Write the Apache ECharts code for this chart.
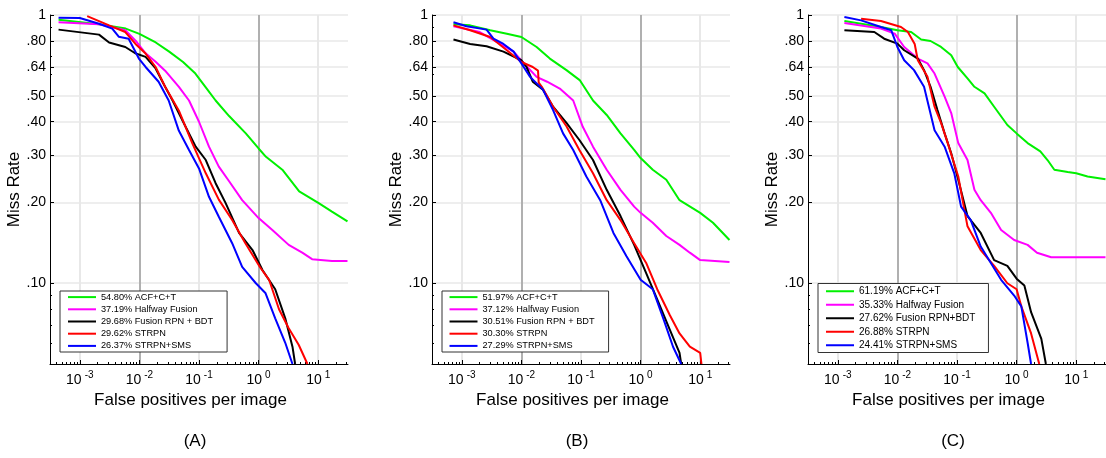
<!DOCTYPE html>
<html>
<head>
<meta charset="utf-8">
<style>
html, body { margin: 0; padding: 0; background: #fff; }
#chart { width: 1106px; height: 458px; }
</style>
</head>
<body>
<div id="chart"></div>
<script src="https://cdn.jsdelivr.net/npm/echarts@6/dist/echarts.min.js"></script>
<script>
// tick labels
var xTicks = [1e-3, 1e-2, 1e-1, 1, 10];
var yTicks = [0.1, 0.2, 0.3, 0.4, 0.5, 0.64, 0.8, 1];
var yMinorTicks = [0.06, 0.07, 0.08, 0.09, 0.6, 0.7, 0.9];

var colors = ['#00f000', '#ff00ff', '#000000', '#ff0000', '#0000ff'];

// legend labels
var namesA = ['54.80% ACF+C+T', '37.19% Halfway Fusion', '29.68% Fusion RPN + BDT', '29.62% STRPN', '26.37% STRPN+SMS'];
var namesB = ['51.97% ACF+C+T', '37.12% Halfway Fusion', '30.51% Fusion RPN + BDT', '30.30% STRPN', '27.29% STRPN+SMS'];
var namesC = ['61.19% ACF+C+T', '35.33% Halfway Fusion', '27.62% Fusion RPN+BDT', '26.88% STRPN', '24.41% STRPN+SMS'];

// (A) [false positives per image, miss rate]
var acfA = [[4.4e-4,0.961],[2.1e-3,0.923],[5.9e-3,0.89],[0.01,0.85],[0.0188,0.79],[0.0316,0.73],[0.054,0.668],[0.087,0.605],[0.128,0.54],[0.19,0.48],[0.32,0.42],[0.61,0.362],[1.0,0.318],[1.33,0.296],[2.5,0.265],[4.8,0.22],[10.2,0.199],[17,0.185],[31,0.17]];
var halfA = [[4.4e-4,0.94],[2.1e-3,0.923],[5.8e-3,0.877],[8.7e-3,0.8],[0.0127,0.72],[0.0187,0.67],[0.027,0.62],[0.046,0.54],[0.068,0.48],[0.1,0.40],[0.147,0.323],[0.215,0.272],[0.32,0.24],[0.53,0.204],[1,0.175],[1.7,0.158],[3.2,0.139],[5.4,0.13],[7.9,0.123],[17,0.121],[31,0.121]];
var fusionA = [[4.4e-4,0.882],[2.1e-3,0.845],[3.1e-3,0.79],[5.8e-3,0.76],[8.5e-3,0.72],[0.0127,0.698],[0.0187,0.632],[0.027,0.54],[0.036,0.48],[0.059,0.385],[0.088,0.323],[0.13,0.288],[0.19,0.236],[0.28,0.199],[0.47,0.154],[0.79,0.133],[1.16,0.112],[1.9,0.095],[2.8,0.074],[3.7,0.058],[4.1,0.05]];
var strpnA = [[1.33e-3,0.99],[3.1e-3,0.915],[5.8e-3,0.864],[8.6e-3,0.78],[0.0127,0.718],[0.0187,0.64],[0.027,0.54],[0.046,0.44],[0.077,0.333],[0.13,0.257],[0.215,0.205],[0.36,0.172],[0.6,0.141],[1.05,0.115],[1.5,0.103],[2.2,0.08],[3.2,0.068],[4.7,0.059],[6.6,0.05]];
var smsA = [[4.4e-4,0.977],[1e-3,0.975],[2.1e-3,0.928],[3.5e-3,0.89],[4.5e-3,0.83],[6.6e-3,0.816],[9.8e-3,0.688],[0.0127,0.64],[0.021,0.564],[0.031,0.48],[0.046,0.37],[0.068,0.314],[0.1,0.268],[0.147,0.21],[0.215,0.177],[0.36,0.141],[0.53,0.115],[0.9,0.1],[1.3,0.092],[1.9,0.074],[2.8,0.06],[3.7,0.05]];

// (B)
var acfB = [[7.25e-4,0.923],[1.38e-3,0.915],[3e-3,0.877],[5.7e-3,0.852],[0.01,0.828],[0.018,0.76],[0.03,0.688],[0.057,0.623],[0.095,0.572],[0.159,0.48],[0.27,0.424],[0.46,0.362],[0.78,0.314],[1,0.293],[1.6,0.265],[2.7,0.243],[4.5,0.204],[10,0.183],[16.4,0.168],[31,0.145]];
var halfB = [[7.25e-4,0.908],[2e-3,0.864],[4e-3,0.79],[7.4e-3,0.73],[0.0105,0.668],[0.018,0.588],[0.027,0.564],[0.044,0.532],[0.074,0.48],[0.107,0.383],[0.159,0.323],[0.27,0.265],[0.46,0.223],[0.78,0.193],[1,0.183],[1.6,0.168],[2.7,0.15],[4.5,0.139],[6.7,0.13],[10,0.122],[31,0.12]];
var fusionB = [[7.25e-4,0.81],[1.38e-3,0.78],[2.6e-3,0.765],[5e-3,0.73],[0.01,0.678],[0.0122,0.64],[0.0155,0.564],[0.023,0.527],[0.034,0.455],[0.057,0.396],[0.094,0.342],[0.159,0.288],[0.27,0.223],[0.46,0.178],[0.78,0.139],[1.24,0.109],[1.9,0.087],[3.1,0.067],[4.5,0.055],[4.8,0.05]];
var strpnB = [[7.25e-4,0.915],[1.38e-3,0.877],[3e-3,0.828],[5.7e-3,0.739],[0.01,0.668],[0.0155,0.64],[0.019,0.62],[0.0195,0.56],[0.022,0.54],[0.034,0.455],[0.057,0.385],[0.094,0.314],[0.159,0.257],[0.27,0.204],[0.46,0.172],[0.78,0.141],[1.24,0.119],[1.9,0.095],[3.1,0.076],[4.5,0.065],[6.7,0.058],[10,0.055],[10.5,0.05]];
var smsB = [[7.25e-4,0.94],[1.2e-3,0.908],[2.6e-3,0.882],[3.4e-3,0.816],[5e-3,0.78],[7.4e-3,0.73],[0.01,0.66],[0.014,0.588],[0.023,0.527],[0.034,0.442],[0.05,0.362],[0.074,0.314],[0.123,0.25],[0.21,0.204],[0.35,0.154],[0.58,0.126],[1,0.103],[1.6,0.095],[2.4,0.074],[3.5,0.058],[4.8,0.05]];

// (C)
var acfC = [[1.29e-3,0.95],[5.3e-3,0.902],[0.01,0.877],[0.017,0.864],[0.025,0.81],[0.036,0.8],[0.054,0.76],[0.08,0.708],[0.103,0.64],[0.15,0.58],[0.196,0.54],[0.29,0.51],[0.42,0.455],[0.7,0.389],[1,0.362],[1.53,0.333],[2.5,0.31],[3.3,0.288],[4.3,0.265],[7.2,0.26],[10,0.257],[15.5,0.25],[31,0.244]];
var halfC = [[1.29e-3,0.934],[5.3e-3,0.89],[9e-3,0.852],[0.013,0.76],[0.022,0.688],[0.032,0.66],[0.042,0.605],[0.062,0.496],[0.08,0.431],[0.105,0.333],[0.15,0.288],[0.196,0.223],[0.25,0.204],[0.37,0.183],[0.55,0.158],[0.91,0.145],[1.53,0.139],[2.2,0.13],[3.8,0.125],[31,0.125]];
var fusionC = [[1.29e-3,0.877],[4.1e-3,0.864],[6e-3,0.816],[0.01,0.782],[0.013,0.739],[0.022,0.688],[0.028,0.623],[0.036,0.54],[0.047,0.442],[0.062,0.362],[0.08,0.305],[0.105,0.243],[0.15,0.178],[0.25,0.154],[0.42,0.122],[0.7,0.116],[1,0.104],[1.35,0.098],[1.75,0.078],[2.6,0.062],[3.1,0.05]];
var strpnC = [[2.46e-3,0.969],[5.3e-3,0.95],[0.0115,0.902],[0.015,0.864],[0.0195,0.78],[0.022,0.678],[0.032,0.588],[0.042,0.455],[0.054,0.396],[0.07,0.333],[0.105,0.25],[0.13,0.193],[0.15,0.163],[0.25,0.133],[0.42,0.116],[0.7,0.1],[1,0.095],[1.2,0.082],[1.75,0.065],[2.4,0.05]];
var smsC = [[1.29e-3,0.983],[2.46e-3,0.955],[5.3e-3,0.902],[7.9e-3,0.877],[0.01,0.76],[0.013,0.678],[0.019,0.623],[0.028,0.54],[0.042,0.372],[0.062,0.323],[0.09,0.257],[0.117,0.193],[0.17,0.172],[0.25,0.137],[0.37,0.119],[0.55,0.103],[0.91,0.09],[1.2,0.082],[1.53,0.06],[1.75,0.05]];

var panels = [
  { left: 50, names: namesA, data: [acfA, halfA, fusionA, strpnA, smsA], tag: '(A)',
    legend: { left: 60, top: 291, padding: [0, 14, 0, 7], pitch: 12.2, fontSize: 9.2 } },
  { left: 432, names: namesB, data: [acfB, halfB, fusionB, strpnB, smsB], tag: '(B)',
    legend: { left: 442, top: 291, padding: [0, 14, 0, 6.5], pitch: 12.2, fontSize: 9.2 } },
  { left: 808, names: namesC, data: [acfC, halfC, fusionC, strpnC, smsC], tag: '(C)',
    legend: { left: 818, top: 283.5, padding: [1, 13, 0.5, 7], pitch: 13.5, fontSize: 10 } }
];

var FONT = 'Liberation Sans, Arial, Helvetica, sans-serif';
var xMin = Math.pow(10, -3.5), xMax = Math.pow(10, 1.5);

// minor tick positions on the log x axis
var xMinorTicks = [];
for (var e = -4; e <= 1; e++) {
  for (var m = 2; m <= 9; m++) {
    var v = m * Math.pow(10, e);
    if (v > xMin && v < xMax) xMinorTicks.push(v);
  }
}

var option = {
  animation: false,
  backgroundColor: '#fff',
  grid: [], xAxis: [], yAxis: [], legend: [], series: [], graphic: []
};

panels.forEach(function (p, i) {
  option.grid.push({ left: p.left, top: 15, width: 298, height: 349 });

  // main x axis
  option.xAxis.push({
    type: 'log', gridIndex: i, position: 'bottom', min: xMin, max: xMax,
    name: 'False positives per image', nameLocation: 'middle', nameGap: 27,
    nameTextStyle: { fontSize: 17, fontFamily: FONT, color: '#000', padding: [0, 17, 0, 0] },
    axisLine: { show: true, onZero: false, lineStyle: { color: '#000', width: 1 } },
    axisTick: { show: true, inside: true, length: 4, customValues: xTicks, lineStyle: { color: '#000' } },
    axisLabel: {
      customValues: xTicks, margin: 6, color: '#000',
      formatter: function (v) {
        return '{b|10}{s|' + Math.round(Math.log10(v)) + '}';
      },
      rich: {
        b: { fontSize: 14, fontFamily: FONT, color: '#000' },
        s: { fontSize: 10, fontFamily: FONT, color: '#000', padding: [0, 0, 10, 3] }
      }
    },
    splitLine: { show: true, lineStyle: { width: 2, color: ['#e8e8e8', '#b0b0b0', '#e8e8e8', '#b0b0b0', '#e8e8e8'] } }
  });
  // minor x ticks
  option.xAxis.push({
    type: 'log', gridIndex: i, position: 'bottom', min: xMin, max: xMax,
    axisLine: { show: false },
    axisTick: { show: true, inside: true, length: 2, customValues: xMinorTicks, lineStyle: { color: '#000' } },
    axisLabel: { show: false },
    splitLine: { show: false }
  });

  // main y axis
  option.yAxis.push({
    type: 'log', gridIndex: i, position: 'left', min: 0.05, max: 1,
    name: 'Miss Rate', nameLocation: 'middle', nameGap: 26, nameRotate: 90,
    nameTextStyle: { fontSize: 17, fontFamily: FONT, color: '#000' },
    axisLine: { show: true, onZero: false, lineStyle: { color: '#000', width: 1 } },
    axisTick: { show: true, inside: true, length: 4, customValues: yTicks, lineStyle: { color: '#000' } },
    axisLabel: {
      customValues: yTicks, margin: 4, color: '#000', fontSize: 14, fontFamily: FONT,
      formatter: function (v) {
        if (v >= 0.999) return '1';
        var n = Math.round(v * 100);
        return '.' + (n < 10 ? '0' + n : n);
      }
    },
    splitLine: { show: true, lineStyle: { width: 1.6, color: '#e8e8e8' } }
  });
  // minor y ticks
  option.yAxis.push({
    type: 'log', gridIndex: i, position: 'left', min: 0.05, max: 1,
    axisLine: { show: false },
    axisTick: { show: true, inside: true, length: 2, customValues: yMinorTicks, lineStyle: { color: '#000' } },
    axisLabel: { show: false },
    splitLine: { show: false }
  });

  // legend symbol is hidden (opacity 0); its size (0.8 * itemHeight) sets the row pitch
  option.legend.push({
    orient: 'vertical', left: p.legend.left, top: p.legend.top,
    padding: p.legend.padding, itemGap: 0, itemWidth: 28, itemHeight: p.legend.pitch / 0.8,
    itemStyle: { opacity: 0 },
    backgroundColor: '#fff', borderColor: '#333', borderWidth: 1, borderRadius: 0,
    selectedMode: false, data: p.names,
    textStyle: { fontSize: p.legend.fontSize, fontFamily: FONT, color: '#000' }
  });

  p.data.forEach(function (d, k) {
    option.series.push({
      type: 'line', name: p.names[k], xAxisIndex: i * 2, yAxisIndex: i * 2,
      data: d, symbol: 'none', showSymbol: false, color: colors[k],
      lineStyle: { width: 2, color: colors[k] }, z: 3 + k
    });
  });

  option.graphic.push({
    type: 'text', x: p.left + 145, y: 441,
    style: { text: p.tag, font: '17px ' + FONT, fill: '#000', textAlign: 'center', textVerticalAlign: 'middle' }
  });
});

var chart = echarts.init(document.getElementById('chart'), null, { renderer: 'canvas' });
chart.setOption(option);
</script>
</body>
</html>
